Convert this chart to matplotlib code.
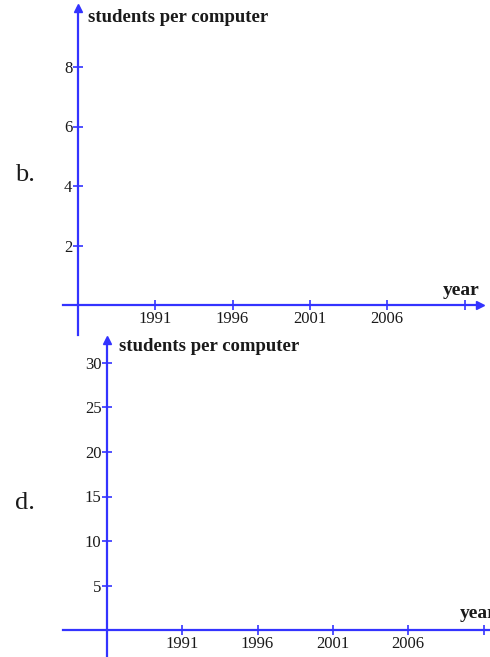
import matplotlib
matplotlib.use("Agg")
import matplotlib.pyplot as plt

plt.rcParams['font.family'] = ['Liberation Serif', 'DejaVu Serif']

BLUE = '#3333ff'
INK = '#1a1a1a'

year_ticks = [1991, 1996, 2001, 2006, 2011]
year_labels = ['1991', '1996', '2001', '2006', '']

b_ticks = [2, 4, 6, 8]
d_ticks = [5, 10, 15, 20, 25, 30]

W, H = 490, 657
fig = plt.figure(figsize=(W / 100, H / 100), dpi=100)


def panel(top_px, bot_px, origin_px, zero_px, px_year, px_unit,
          x_left_px, x_end, y_top, y_ticks, letter, letter_y, label_left, label_y,
          year_x, year_y):
    ax = fig.add_axes([0, 1 - bot_px / H, 1, (bot_px - top_px) / H])
    ax.set_facecolor('none')
    ax.set_xlim(1986 - origin_px / px_year, 1986 + (W - origin_px) / px_year)
    ax.set_ylim(-(bot_px - zero_px) / px_unit, (zero_px - top_px) / px_unit)
    for s in ['top', 'right']:
        ax.spines[s].set_visible(False)
    ax.spines['left'].set_position(('data', 1986))
    ax.spines['bottom'].set_position(('data', 0))
    for s in ['left', 'bottom']:
        ax.spines[s].set_color(BLUE)
        ax.spines[s].set_linewidth(1.6)
    ax.spines['left'].set_bounds(ax.get_ylim()[0], y_top)
    ax.spines['bottom'].set_bounds(1986 - (origin_px - x_left_px) / px_year, x_end)
    ax.set_xticks(year_ticks)
    ax.set_xticklabels(year_labels)
    ax.set_yticks(y_ticks)
    ax.tick_params(direction='inout', length=7, width=1.2, color=BLUE,
                   labelcolor=INK, labelsize=12, pad=0.5)
    ax.plot([1986], [y_top], marker='^', color=BLUE, ms=6, clip_on=False)
    ax.plot([x_end], [0], marker='>', color=BLUE, ms=6, clip_on=False)
    ax.text(1986 + label_left / px_year, label_y, 'students per computer',
            fontsize=13.5, fontweight='bold', color=INK, va='center', ha='left')
    ax.text(year_x, year_y, 'year', fontsize=14, fontweight='bold',
            color=INK, va='center', ha='left', clip_on=False)
    fig.text(15 / W, 1 - letter_y / H, letter, fontsize=19, color=INK,
             va='center', ha='left')
    return ax


panel(0, 335, 78, 305, 15.46, 29.75, 63, 2012.0, 10, b_ticks, 'b.', 175,
      10, 9.65, 2009.6, 0.5)
panel(330, 657, 107, 630, 15.06, 8.9, 63, 2012.4, 32.6, d_ticks, 'd.', 503,
      12, 31.8, 2009.44, 1.9)

fig.savefig('out.png', dpi=100)
